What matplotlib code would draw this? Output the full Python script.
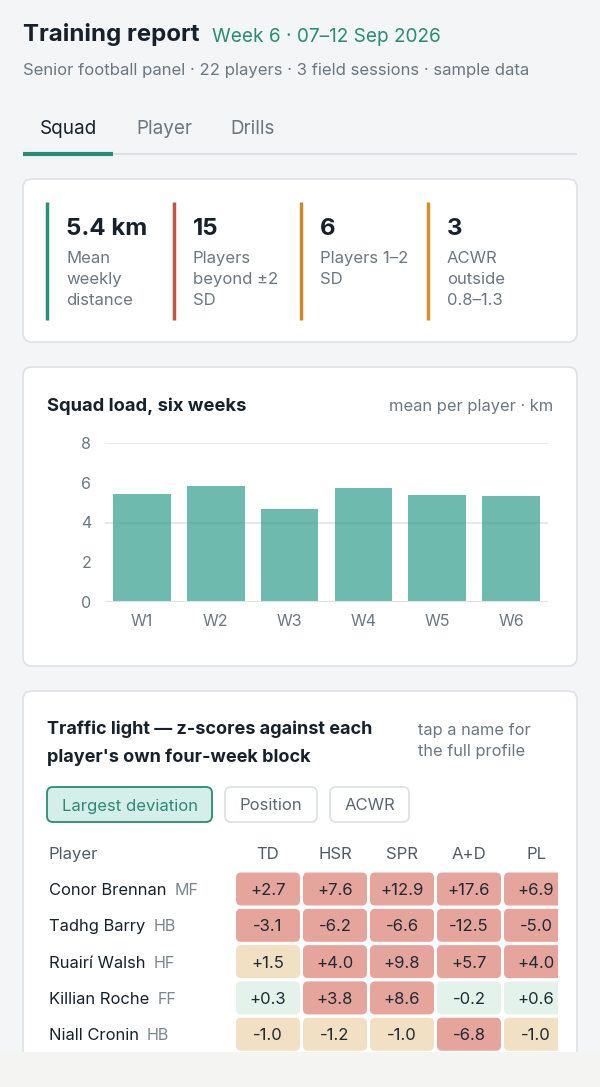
import matplotlib
matplotlib.use('Agg')
import matplotlib.pyplot as plt
from matplotlib.patches import FancyBboxPatch, Rectangle
from matplotlib.transforms import blended_transform_factory, IdentityTransform

plt.rcParams['font.family'] = ['Inter', 'DejaVu Sans']

# data
weeks = ['W1', 'W2', 'W3', 'W4', 'W5', 'W6']
load_km = [5.45, 5.85, 4.7, 5.75, 5.4, 5.35]

kpi_values = ['5.4 km', '15', '6', '3']
kpi_labels = ['Mean\nweekly\ndistance', 'Players\nbeyond ±2\nSD', 'Players 1–2\nSD', 'ACWR\noutside\n0.8–1.3']
kpi_colors = ['#2a9177', '#c5533f', '#cd8a2d', '#d1922b']

metrics = ['TD', 'HSR', 'SPR', 'A+D', 'PL']
players = ['Conor Brennan', 'Tadhg Barry', 'Ruairí Walsh', 'Killian Roche', 'Niall Cronin']
positions = ['MF', 'HB', 'HF', 'FF', 'HB']
zscores = [
    [2.7, 7.6, 12.9, 17.6, 6.9],
    [-3.1, -6.2, -6.6, -12.5, -5.0],
    [1.5, 4.0, 9.8, 5.7, 4.0],
    [0.3, 3.8, 8.6, -0.2, 0.6],
    [-1.0, -1.2, -1.0, -6.8, -1.0],
]

BG = '#f3f5f7'
DARK = '#17212b'
GREY = '#6b7780'
GREEN = '#2a8c74'
BORDER = '#dde2e6'

W, H = 600, 1087
fig = plt.figure(figsize=(W / 100, H / 100), dpi=100)
fig.patch.set_facecolor(BG)
ax = fig.add_axes([0, 0, 1, 1])
ax.set_xlim(0, W)
ax.set_ylim(H, 0)
ax.axis('off')


def px_axes(x0, y0, x1, y1):
    return fig.add_axes([x0 / W, 1 - y1 / H, (x1 - x0) / W, (y1 - y0) / H])


def card(y0, y1):
    ax.add_patch(FancyBboxPatch((23, y0), 554, y1 - y0, boxstyle='round,pad=0,rounding_size=9',
                                fc='white', ec=BORDER, lw=1.2, zorder=1))


# header
ax.text(23, 35, 'Training report', fontsize=17.3, fontweight='bold', color=DARK, va='center')
ax.text(212, 37, 'Week 6 · 07–12 Sep 2026', fontsize=13.7, color=GREEN, va='center')
ax.text(23, 70, 'Senior football panel · 22 players · 3 field sessions · sample data',
        fontsize=12, color=GREY, va='center')

# tabs
ax.text(40, 129.5, 'Squad', fontsize=13.6, color=DARK, va='center')
ax.text(136, 129.5, 'Player', fontsize=13.6, color=GREY, va='center')
ax.text(230, 129.5, 'Drills', fontsize=13.6, color=GREY, va='center')
ax.plot([23, 577], [154, 154], color='#dde1e4', lw=1.5, solid_capstyle='butt')
ax.plot([23, 113], [154, 154], color=GREEN, lw=3, solid_capstyle='butt')

# KPI card
card(179, 342)
for i, (v, lab, c) in enumerate(zip(kpi_values, kpi_labels, kpi_colors)):
    x = 47 + i * 127
    ax.plot([x, x], [202, 320], color=c, lw=2.5, solid_capstyle='butt', zorder=2)
    ax.text(x + 19, 229, v, fontsize=17.3, fontweight='bold', color=DARK, va='center', zorder=2)
    ax.text(x + 19, 251, lab, fontsize=12, color=GREY, va='top', linespacing=1.5, zorder=2)

# bar chart card
card(367, 666)
ax.text(47, 406, 'Squad load, six weeks', fontsize=13.2, fontweight='bold', color=DARK, va='center', zorder=2)
ax.text(553, 406, 'mean per player · km', fontsize=11.9, color=GREY, va='center', ha='right', zorder=2)

bax = px_axes(105, 443, 548, 602)
bax.set_facecolor('none')
for yv in (4, 8):
    bax.axhline(yv, color='#e2e6e9', lw=1.2, zorder=0)
bax.bar(weeks, load_km, width=0.78, color='#2a9a88', alpha=0.68, zorder=2)
bax.axhline(0, color='#dfe3e6', lw=1.5, zorder=3)
bax.set_ylim(0, 8)
bax.set_xlim(-0.5, 5.5)
bax.set_yticks([0, 2, 4, 6, 8])
for s in bax.spines.values():
    s.set_visible(False)
bax.tick_params(length=0, labelsize=11.5, labelcolor=GREY)
bax.tick_params(axis='y', pad=10)
bax.tick_params(axis='x', pad=9)

# traffic light card
card(691, 1080)
ax.text(47, 729, 'Traffic light — z-scores against each', fontsize=13, fontweight='bold',
        color=DARK, va='center', zorder=2)
ax.text(47, 757, "player's own four-week block", fontsize=13, fontweight='bold',
        color=DARK, va='center', zorder=2)
ax.text(418, 741, 'tap a name for\nthe full profile', fontsize=11.8, color=GREY, va='center',
        linespacing=1.45, zorder=2)

buttons = [('Largest deviation', 47, 212, True), ('Position', 225, 317, False), ('ACWR', 330, 409, False)]
for lab, x0, x1, active in buttons:
    ax.add_patch(FancyBboxPatch((x0, 787), x1 - x0, 35, boxstyle='round,pad=0,rounding_size=6',
                                fc='#d6eee9' if active else 'white', ec=GREEN if active else BORDER,
                                lw=1.3, zorder=2))
    ax.text((x0 + x1) / 2, 806, lab, fontsize=12, color=GREEN if active else '#5b6770',
            ha='center', va='center', zorder=3)

# table
tax = px_axes(236, 871, 558, 1052)
tax.set_xlim(-0.478, 4.328)
tax.set_ylim(4.49, -0.496)
tax.axis('off')
xfig = blended_transform_factory(ax.transData, tax.transData)
dy = 0.045  # text nudge to optical centre

ax.text(49, 854.5, 'Player', fontsize=12, color='#4f5b64', va='center', zorder=3)
for j, m in enumerate(metrics):
    tax.text(j, -0.99 + dy, m, fontsize=12, color='#4f5b64', ha='center', va='center', clip_on=False)


def cell_color(z):
    a = abs(z)
    if a >= 2:
        return '#e5a59d'
    if a >= 1:
        return '#f2e0c5'
    return '#e3f3ec'


fig.canvas.draw()
renderer = fig.canvas.get_renderer()
for i, (name, pos, row) in enumerate(zip(players, positions, zscores)):
    t = ax.text(49, i + dy, name, fontsize=11.9, color=DARK, va='center', transform=xfig, zorder=3)
    bb = t.get_window_extent(renderer=renderer)
    ax.text(bb.x1 + 8, i + dy, pos, fontsize=11.6, color='#7b8790', va='center',
            transform=blended_transform_factory(IdentityTransform(), tax.transData), zorder=3)
    for j, z in enumerate(row):
        tax.add_patch(FancyBboxPatch((j - 0.478, i - 0.455), 0.955, 0.91,
                                     boxstyle='round,pad=0,rounding_size=0.075', mutation_aspect=1.85,
                                     fc=cell_color(z), ec='none'))
        tax.text(j, i + dy, f'{z:+.1f}', fontsize=12, color='#1f2a33', ha='center', va='center')

# page bottom
ax.add_patch(Rectangle((0, 1052), W, H - 1052, fc='#f4f4f2', ec='none', zorder=10))

fig.savefig('out.png', dpi=100, facecolor=fig.get_facecolor())
